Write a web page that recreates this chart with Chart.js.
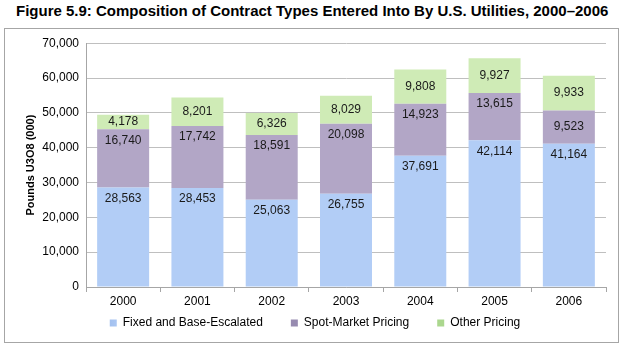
<!DOCTYPE html>
<html>
<head>
<meta charset="utf-8">
<script src="https://cdn.jsdelivr.net/npm/chart.js@4"></script>
<style>
  body { margin: 0; background: #fff; font-family: Arial, 'Liberation Sans', sans-serif; }
  #title { position: absolute; left: 16px; top: 2px; font-size: 15px; font-weight: bold; color: #000; white-space: nowrap; }
  #frame { position: absolute; left: 4px; top: 28px; width: 613px; height: 313px; border: 1px solid #a6a6a6; }
  canvas { display: block; }
</style>
</head>
<body>
<div id="title">Figure 5.9: Composition of Contract Types Entered Into By U.S. Utilities, 2000–2006</div>
<div id="frame"><canvas id="chart" width="613" height="313"></canvas></div>
<script>
const years = ['2000', '2001', '2002', '2003', '2004', '2005', '2006'];
const fixedBase = [28563, 28453, 25063, 26755, 37691, 42114, 41164];
const spotMarket = [16740, 17742, 18591, 20098, 14923, 13615, 9523];
const otherPricing = [4178, 8201, 6326, 8029, 9808, 9927, 9933];

// gradient like the Excel bars: lighter middle, darker edges
function barFill(light, dark) {
  return function (c) {
    const el = c.element;
    if (!el || el.x === undefined || !el.width) return light;
    const g = c.chart.ctx.createLinearGradient(el.x - el.width / 2, 0, el.x + el.width / 2, 0);
    g.addColorStop(0, dark);
    g.addColorStop(0.5, light);
    g.addColorStop(1, dark);
    return g;
  };
}

// draws the value inside each segment
const segLabels = {
  id: 'segLabels',
  afterDatasetsDraw(chart) {
    const ctx = chart.ctx;
    ctx.save();
    ctx.font = '12px Arial, "Liberation Sans"';
    ctx.fillStyle = '#1a1a1a';
    ctx.textAlign = 'center';
    ctx.textBaseline = 'middle';
    chart.data.datasets.forEach((ds, i) => {
      chart.getDatasetMeta(i).data.forEach((bar, j) => {
        const h = bar.base - bar.y;
        const y = h < 40 ? bar.y + h / 2 : bar.y + 11;
        ctx.fillText(ds.data[j].toLocaleString('en-US'), bar.x, y);
      });
    });
    ctx.restore();
  }
};

// the legend keeps wide gaps between items, so pull its top up closer to the axis
const legendShift = {
  id: 'legendShift',
  afterLayout(chart) {
    chart.legend.top -= 18;
  }
};

new Chart(document.getElementById('chart'), {
  type: 'bar',
  data: {
    labels: years,
    datasets: [
      { label: 'Fixed and Base-Escalated', data: fixedBase, backgroundColor: barFill('#b2cdf6', '#94b4e8') },
      { label: 'Spot-Market Pricing', data: spotMarket, backgroundColor: barFill('#b2a6c6', '#978bb0') },
      { label: 'Other Pricing', data: otherPricing, backgroundColor: barFill('#cfebb6', '#abd78e') }
    ]
  },
  options: {
    responsive: false,
    animation: false,
    barPercentage: 0.7,
    categoryPercentage: 1,
    layout: { padding: { top: 12, right: 12, left: 19, bottom: 0 } },
    scales: {
      x: {
        stacked: true,
        afterFit: s => { s.height = 20; },
        grid: { offset: true, drawOnChartArea: false, tickLength: 5, color: '#a6a6a6' },
        border: { color: '#a6a6a6' },
        ticks: { color: '#000', font: { family: 'Arial', size: 12 }, padding: 2 }
      },
      y: {
        stacked: true,
        min: 0,
        max: 70000,
        afterFit: s => { s.width = 62; },
        ticks: {
          stepSize: 10000,
          padding: 7,
          color: '#000',
          font: { family: 'Arial', size: 12 },
          callback: v => v.toLocaleString('en-US')
        },
        grid: { color: '#bfbfbf', drawTicks: false },
        border: { color: '#a6a6a6' },
        title: { display: true, text: 'Pounds U3O8 (000)', color: '#000', font: { family: 'Arial', size: 11, weight: 'bold' }, padding: 0 }
      }
    },
    plugins: {
      legend: {
        position: 'bottom',
        maxHeight: 35,
        labels: { boxWidth: 7, boxHeight: 7, padding: 28, color: '#000', font: { family: 'Arial', size: 12 } }
      },
      tooltip: { enabled: false }
    }
  },
  plugins: [segLabels, legendShift]
});
</script>
</body>
</html>
